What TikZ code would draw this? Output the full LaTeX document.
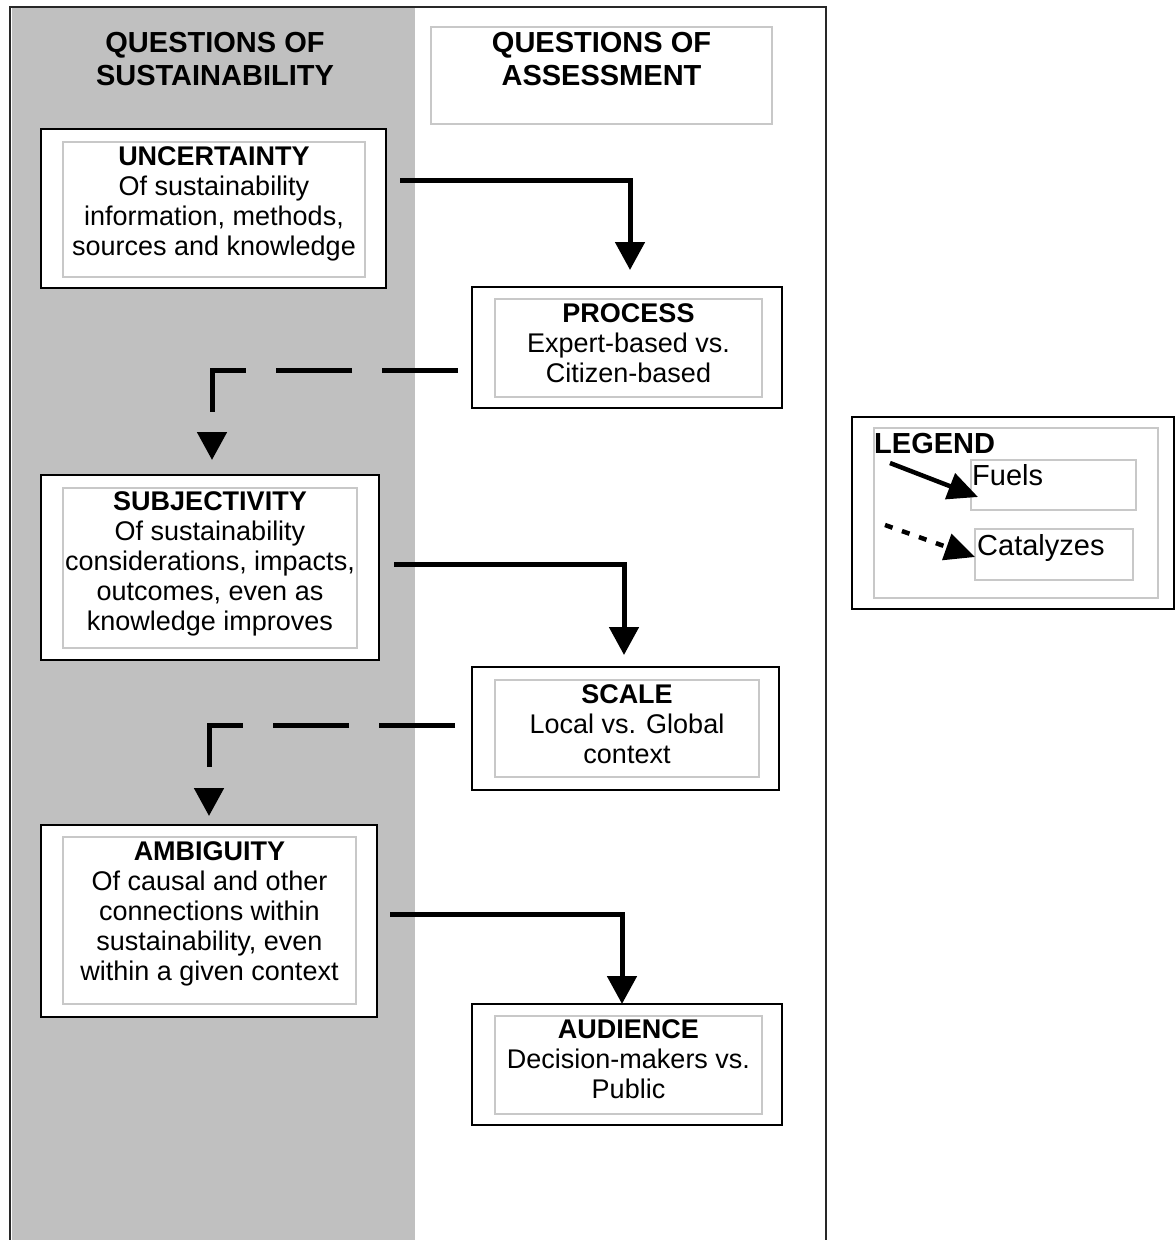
\documentclass[tikz,border=0pt]{standalone}
\usepackage{fontspec}
\setmainfont{Liberation Sans}
\usetikzlibrary{arrows.meta,calc}
\definecolor{panelgray}{RGB}{192,192,192}
\definecolor{lightframe}{RGB}{200,200,200}
\definecolor{framecol}{RGB}{40,40,40}
\tikzset{
  outerbox/.style={draw=black, line width=2bp, fill=white, rectangle, inner sep=0pt, outer sep=0pt},
  innerbox/.style={draw=lightframe, line width=1.5bp, rectangle, inner sep=0pt, outer sep=0pt},
  boxtext/.style={font=\fontsize{27bp}{30bp}\selectfont, align=center, inner sep=0pt, anchor=north},
  headtext/.style={font=\bfseries\fontsize{29bp}{33bp}\selectfont, align=center, inner sep=0pt, anchor=north},
  legtext/.style={font=\fontsize{29bp}{33bp}\selectfont, inner sep=0pt, anchor=north west},
  fuel/.style={line width=5bp, -{Triangle[length=28bp,width=29bp]}},
  catalyst/.style={fuel, dash pattern=on 76bp off 30bp},
  legfuel/.style={line width=4.5bp, -{Triangle[length=30bp,width=27bp]}},
  legcat/.style={legfuel, dash pattern=on 8bp off 10bp},
}
\begin{document}
\begin{tikzpicture}[x=1bp,y=-1bp]
\useasboundingbox (0,0) rectangle (1175,1240);
% panels
\fill[panelgray] (12,8) rectangle (415,1240);
\draw[framecol, line width=2bp] (10,7) rectangle (826,1300);
% headers
\node[headtext] (hsus) at (215,32) {QUESTIONS OF\\SUSTAINABILITY};
\node[innerbox, fill=white, minimum width=341bp, minimum height=97bp] (hassbox) at (601.5,75.5) {};
\node[headtext] (hass) at (601.5,32) {QUESTIONS OF\\ASSESSMENT};
% uncertainty
\node[outerbox, minimum width=345bp, minimum height=159bp] (unc) at (213.5,208.5) {};
\node[innerbox, minimum width=302bp, minimum height=135bp] (unci) at (214,209.5) {};
\node[boxtext] (unct) at (214,146) {\textbf{UNCERTAINTY}\\Of sustainability\\information, methods,\\sources and knowledge};
% process
\node[outerbox, minimum width=310bp, minimum height=121bp] (proc) at (627,347.5) {};
\node[innerbox, minimum width=267bp, minimum height=98bp] (proci) at (628.5,348) {};
\node[boxtext] (proct) at (628.5,303) {\textbf{PROCESS}\\Expert-based vs.\\Citizen-based};
% subjectivity
\node[outerbox, minimum width=338bp, minimum height=185bp] (subj) at (210,567.5) {};
\node[innerbox, minimum width=294bp, minimum height=160bp] (subji) at (210,568) {};
\node[boxtext] (subjt) at (210,491) {\textbf{SUBJECTIVITY}\\Of sustainability\\considerations, impacts,\\outcomes, even as\\knowledge improves};
% scale
\node[outerbox, minimum width=307bp, minimum height=123bp] (scale) at (625.5,728.5) {};
\node[innerbox, minimum width=264bp, minimum height=97bp] (scalei) at (627,728.5) {};
\node[boxtext] (scalet) at (627,684) {\textbf{SCALE}\\Local vs. Global\\context};
% ambiguity
\node[outerbox, minimum width=336bp, minimum height=192bp] (amb) at (209,921) {};
\node[innerbox, minimum width=293bp, minimum height=167bp] (ambi) at (209.5,920.5) {};
\node[boxtext] (ambt) at (209.5,841) {\textbf{AMBIGUITY}\\Of causal and other\\connections within\\sustainability, even\\within a given context};
% audience
\node[outerbox, minimum width=310bp, minimum height=121bp] (aud) at (627,1064.5) {};
\node[innerbox, minimum width=267bp, minimum height=98bp] (audi) at (628.5,1065) {};
\node[boxtext] (audt) at (628.5,1019) {\textbf{AUDIENCE}\\Decision-makers vs.\\Public};
% connectors
\draw[fuel] ($(unc.east)+(14,-28.5)$) -| ($(proc.north)+(3,-17)$);
\draw[catalyst] ($(proc.west)+(-14,22.5)$) -| ($(subj.north)+(2,-15)$);
\draw[fuel] ($(subj.east)+(15,-3.5)$) -| ($(scale.north)+(-1.5,-12)$);
\draw[catalyst] ($(scale.west)+(-17,-3.5)$) -| ($(amb.north)+(0,-9)$);
\draw[fuel] ($(amb.east)+(13,-7)$) -| ($(aud.north)+(-5,0)$);
% legend
\node[outerbox, minimum width=322bp, minimum height=192bp] (leg) at (1013,513) {};
\node[innerbox, minimum width=284bp, minimum height=170bp] (legi) at (1016,513) {};
\node[innerbox, minimum width=165bp, minimum height=50bp] (fuelbox) at (1053.5,485) {};
\node[innerbox, minimum width=158bp, minimum height=51bp] (catbox) at (1054,554.5) {};
\node[legtext, font=\bfseries\fontsize{29bp}{33bp}\selectfont] (legt) at (874,433) {LEGEND};
\node[legtext] (fuelt) at (972,464) {Fuels};
\node[legtext] (catt) at (977,534) {Catalyzes};
\coordinate (lfs) at (890,463);
\coordinate (lfe) at (978,497);
\coordinate (lcs) at (885,525);
\coordinate (lce) at (975,557);
\draw[legfuel] (lfs) -- (lfe);
\draw[legcat] (lcs) -- (lce);
\end{tikzpicture}
\end{document}
